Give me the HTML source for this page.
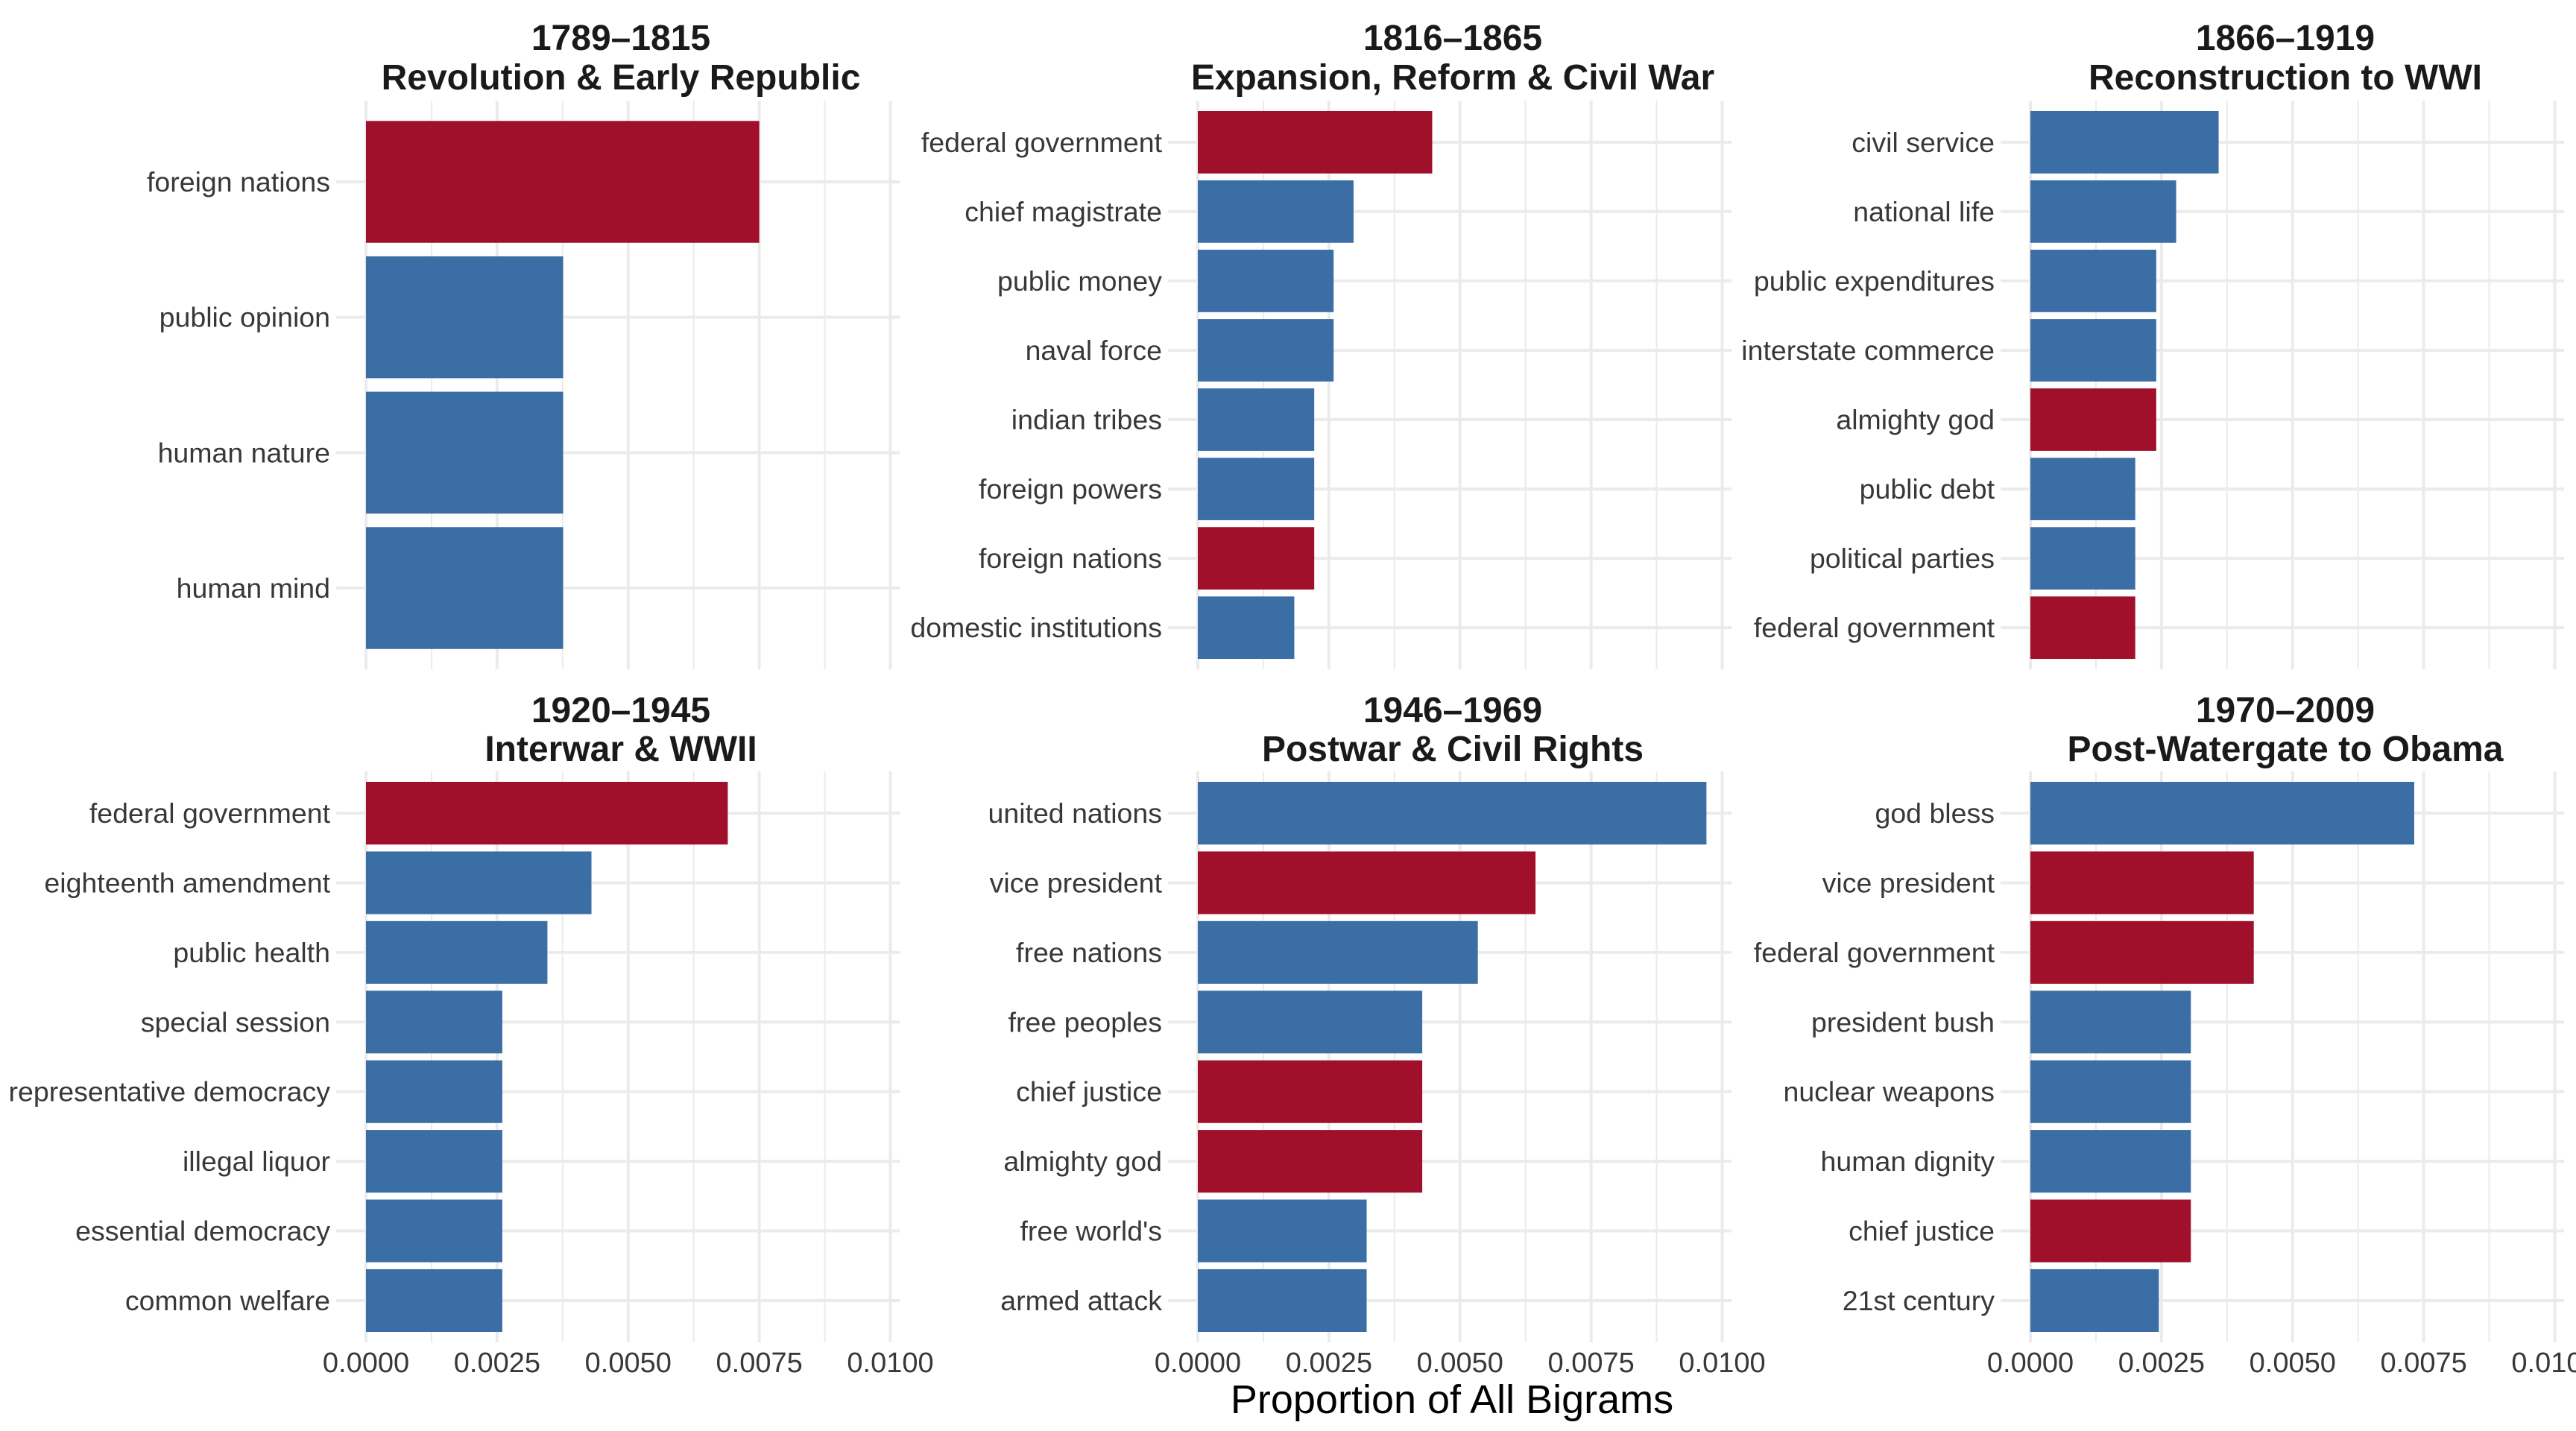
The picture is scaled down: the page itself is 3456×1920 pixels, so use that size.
<!DOCTYPE html>
<html><head><meta charset="utf-8"><style>
html,body{margin:0;padding:0;background:#fff;}
svg{display:block;font-family:"Liberation Sans",Arial,sans-serif;}
</style></head><body>
<svg id="chart" width="3456" height="1920" viewBox="0 0 3456 1920" xmlns="http://www.w3.org/2000/svg">
<rect width="3456" height="1920" fill="#fff"/>
<text x="1948" y="1896" font-size="54" text-anchor="middle" fill="#000">Proportion of All Bigrams</text>
</svg>
<script>
const periods = ["1789–1815","1816–1865","1866–1919","1920–1945","1946–1969","1970–2009"];
const eraNames = ["Revolution & Early Republic","Expansion, Reform & Civil War","Reconstruction to WWI","Interwar & WWII","Postwar & Civil Rights","Post-Watergate to Obama"];
const bigrams1 = ["foreign nations","public opinion","human nature","human mind"];
const values1 = [0.0075,0.00376,0.00376,0.00376];
const red1 = [1,0,0,0];
const bigrams2 = ["federal government","chief magistrate","public money","naval force","indian tribes","foreign powers","foreign nations","domestic institutions"];
const values2 = [0.00447,0.00297,0.00259,0.00259,0.00222,0.00222,0.00222,0.00184];
const red2 = [1,0,0,0,0,0,1,0];
const bigrams3 = ["civil service","national life","public expenditures","interstate commerce","almighty god","public debt","political parties","federal government"];
const values3 = [0.00359,0.00278,0.0024,0.0024,0.0024,0.002,0.002,0.002];
const red3 = [0,0,0,0,1,0,0,1];
const bigrams4 = ["federal government","eighteenth amendment","public health","special session","representative democracy","illegal liquor","essential democracy","common welfare"];
const values4 = [0.0069,0.0043,0.00346,0.0026,0.0026,0.0026,0.0026,0.0026];
const red4 = [1,0,0,0,0,0,0,0];
const bigrams5 = ["united nations","vice president","free nations","free peoples","chief justice","almighty god","free world's","armed attack"];
const values5 = [0.0097,0.00644,0.00534,0.00428,0.00428,0.00428,0.00322,0.00322];
const red5 = [0,1,0,0,1,1,0,0];
const bigrams6 = ["god bless","vice president","federal government","president bush","nuclear weapons","human dignity","chief justice","21st century"];
const values6 = [0.00732,0.00426,0.00426,0.00306,0.00306,0.00306,0.00306,0.00245];
const red6 = [0,1,1,0,0,0,1,0];
const xTicks = [0,0.0025,0.005,0.0075,0.01];
const xTickLabels = ["0.0000","0.0025","0.0050","0.0075","0.0100"];

const NS="http://www.w3.org/2000/svg";
const svg=document.getElementById('chart');
function mk(tag,attrs,parent){const e=document.createElementNS(NS,tag);for(const k in attrs)e.setAttribute(k,attrs[k]);(parent||svg).appendChild(e);return e;}
const allB=[bigrams1,bigrams2,bigrams3,bigrams4,bigrams5,bigrams6];
const allV=[values1,values2,values3,values4,values5,values6];
const allR=[red1,red2,red3,red4,red5,red6];
const zeros=[491,1607,2724];
const PXU=703.5/0.01, XMAX=0.01018;
for(let p=0;p<6;p++){
  const col=p%3,row=Math.floor(p/3);
  const x0=zeros[col];
  const top=row===0?135:1035, bot=row===0?898:1801;
  const xs=v=>x0+v*PXU;
  const n=allB[p].length;
  const unit=(bot-top)/(n+0.2);
  const ys=i=>top+unit*(0.6+i);
  const g=mk('g',{});
  
  
  const right=xs(XMAX);
  for(let k=0;k<xTicks.length-1;k++){
    const m=mk('line',{x1:xs((xTicks[k]+xTicks[k+1])/2),x2:xs((xTicks[k]+xTicks[k+1])/2),y1:top,y2:bot,stroke:'#ebebeb','stroke-width':2},g);
    
    
  }
  xTicks.forEach(t=>{
    const l=mk('line',{x1:xs(t),x2:xs(t),y1:top,y2:bot,stroke:'#ebebeb','stroke-width':4},g);
    
    
  });
  for(let i=0;i<n;i++){
    const l=mk('line',{x1:x0-40,x2:right,y1:ys(i),y2:ys(i),stroke:'#ebebeb','stroke-width':4},g);
    
    
  }
  for(let i=0;i<n;i++){
    const h=unit*0.9;
    const r=mk('rect',{x:x0,y:ys(i)-h/2,width:xs(allV[p][i])-x0,height:h,fill:allR[p][i]?'#a0102a':'#3a6ea5'},g);
    
    
    const t=mk('text',{x:x0-48,y:ys(i)+13,'font-size':37.5,'text-anchor':'end',fill:'#383838'},g);
    t.textContent=allB[p][i];
    
    
  }
  if(row===1){
    xTicks.forEach((t,k)=>{
      const tx=mk('text',{x:xs(t),y:1841,'font-size':38,'text-anchor':'middle',fill:'#383838'},g);
      tx.textContent=xTickLabels[k];
      
      
    });
  }
  const cx=x0+342;
  const t1=mk('text',{x:cx,y:(row===0?50:952)+17,'font-size':48,'font-weight':'bold','text-anchor':'middle',fill:'#1a1a1a'},g);
  t1.textContent=periods[p];
  
  
  const t2=mk('text',{x:cx,y:(row===0?103:1004)+17,'font-size':48,'font-weight':'bold','text-anchor':'middle',fill:'#1a1a1a'},g);
  t2.textContent=eraNames[p];
  
  
}
</script>
</body></html>
